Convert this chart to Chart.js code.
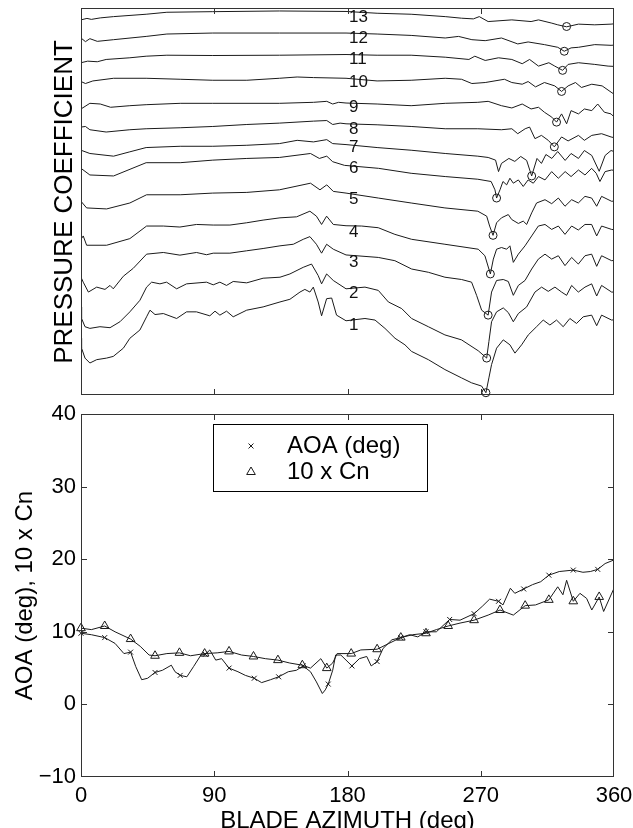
<!DOCTYPE html>
<html lang="en">
<head>
<meta charset="UTF-8">
<title>Pressure coefficient and AOA vs blade azimuth</title>
<script src="https://cdn.jsdelivr.net/npm/chart.js"></script>
<style>
  body { margin: 0; background: #fff; }
  #wrap { position: relative; width: 633px; height: 828px; overflow: hidden; }
  canvas { position: absolute; left: 0; }
  #cpChart { top: 0; }
  #aoaChart { top: 400px; }
</style>
</head>
<body>
<div id="wrap">
  <canvas id="cpChart" width="633" height="400"></canvas>
  <canvas id="aoaChart" width="633" height="428"></canvas>
</div>
<script>
// ---- top panel: 13 stacked pressure traces, [azimuth (deg), offset Cp] (axis reversed) ----
const cp1 = [[0,33.37],[0.4,34.37],[2.7,35.37],[6,35.87],[10.6,35.53],[17.3,35.37],[21.8,35.2],[28.6,34.37],[33,33.37],[39.8,32.53],[44.3,31.2],[46.6,30.53],[50,30.97],[55.6,30.87],[64.6,31.37],[71.3,30.7],[78,30.7],[87,31.1],[90.5,30.63],[93.8,31.03],[98.3,30.63],[102.8,31.2],[111.9,30.53],[123,30.2],[134.4,29.7],[141.1,29.43],[147.9,28.7],[151.2,28.43],[154.6,28.7],[156.9,28.2],[160.2,29.7],[162.5,31.1],[165.9,29.37],[169.3,29.3],[172.6,31.03],[179,31.6],[191.8,31.37],[198.6,31.53],[205.3,32.37],[212.1,33.37],[218.8,34.03],[223.3,34.7],[234.6,35.53],[245.8,36.53],[257,37.37],[263.8,37.87],[270.6,38.2],[273.5,38.87],[275.5,37.37],[277.3,36.03],[280.7,34.37],[285.2,33.53],[289.7,34.03],[293.1,34.87],[297.6,34.03],[302.1,33.03],[307.7,32.2],[312.2,31.53],[316.7,32.03],[321.2,31.53],[325.7,32.2],[330.2,31.37],[334.7,31.87],[339.2,31.2],[344.9,31.03],[348.3,32.1],[351.6,31.03],[358.4,31.53],[360,31.5]];
const cp2 = [[0,30.2],[0.4,31.37],[2.7,32.2],[6,32.37],[12.8,32.2],[19.6,32.3],[26.3,31.7],[33,30.7],[39.8,29.53],[44.3,28.2],[47.7,27.7],[53.3,27.87],[57.8,27.7],[64.6,28.37],[71.3,27.87],[84.8,27.7],[89.3,27.97],[93.8,27.7],[98.3,28.03],[102.8,27.63],[111.9,27.77],[123,27.3],[134.4,27.2],[141.1,26.87],[150.1,26.2],[155.7,25.87],[160.2,27.03],[162.5,27.87],[165.9,26.87],[170.4,27.53],[179,28.37],[191.8,28.2],[200.8,28.53],[207.6,29.7],[216.6,30.37],[223.3,31.37],[234.6,32.2],[245.8,33.03],[257,33.53],[268.3,34.63],[274,35.37],[275.5,33.7],[277.3,31.7],[280.7,30.7],[285.2,30.3],[288.6,30.77],[292,31.7],[295.4,30.87],[301,30.2],[306.6,28.7],[311.1,28.2],[315.6,28.63],[320.1,28.2],[324.6,28.7],[328,29.03],[331.4,28.03],[335.9,28.7],[340.4,28.2],[344.9,27.87],[348.3,29.1],[351.6,28.03],[358.4,28.7],[360,28.7]];
const cp3 = [[0,27.2],[1.5,27.7],[5,28.7],[10.6,28.2],[16.2,28.43],[19.6,28.03],[21.8,28.37],[28.6,27.1],[35.3,26.3],[44.3,24.87],[55.6,24.7],[66.8,24.97],[78,24.7],[84.8,24.93],[89.3,24.77],[100.6,24.77],[111.9,24.53],[123,24.3],[134.4,24.03],[143.4,23.87],[150.1,23.37],[154.6,23.1],[159,23.87],[162.5,24.77],[165.9,23.87],[170.4,24.37],[179,24.95],[200.8,25.2],[212,25.53],[223.3,26.37],[234.6,26.7],[245.8,27.2],[257,27.43],[263.8,27.7],[267.2,29.03],[270.6,30.53],[275,31.03],[277.3,28.7],[280.7,27.53],[285.2,27.43],[288.6,27.63],[292,29.03],[295.4,28.03],[299.9,27.53],[304.4,26.37],[308.9,25.37],[313.4,24.87],[317.9,25.37],[322.4,25.03],[326.9,26.03],[331.4,25.2],[335.9,25.87],[340.4,25.03],[344.9,24.87],[348.3,26.1],[351.6,25.03],[358.4,25.53],[360,25.5]];
const cp4 = [[0,23.37],[1.5,23.03],[3.8,23.97],[17.3,23.97],[33,23.3],[44.3,22.03],[55.6,22.03],[66.8,22.13],[78,21.87],[89.3,21.93],[100.6,21.93],[111.9,21.7],[123,21.43],[134.4,21.2],[145.6,21.1],[154.6,20.53],[159,21.03],[162.5,21.87],[165.9,21.03],[170.4,21.87],[179,22.0],[189.6,22.03],[200.8,22.2],[212,22.87],[223.3,23.37],[245.8,23.87],[268.3,24.37],[272.8,25.03],[276.5,26.87],[278.5,25.37],[280.7,24.37],[284,24.2],[287.5,24.37],[289.7,24.03],[292,25.7],[295.4,24.87],[299.9,24.03],[304.4,23.03],[308.9,22.03],[313.4,21.87],[317.9,22.37],[322.4,22.03],[326.9,22.87],[331.4,22.03],[335.9,22.43],[340.4,21.87],[344.9,21.87],[348.3,23.03],[351.6,22.03],[358.4,22.37],[360,22.4]];
const cp5 = [[0,19.53],[3.8,20.2],[17.3,20.3],[33,19.7],[44.3,18.87],[67,18.87],[89,18.7],[112,18.63],[134,18.37],[155,17.7],[161.4,18.37],[166,17.87],[170.4,18.53],[179,18.7],[200.8,19.2],[223,19.7],[245.8,20.2],[268,20.53],[274,21.03],[276,22.03],[278.3,22.97],[280.7,21.7],[284,21.2],[288.6,20.87],[290.9,21.37],[295.4,21.77],[298.7,21.53],[301,21.87],[304.4,20.7],[307.7,19.7],[313.4,19.37],[317.9,19.77],[322.4,19.2],[326.9,20.03],[331.4,19.37],[335.9,19.7],[340.4,19.03],[344.9,19.2],[348.3,20.03],[351.6,19.03],[358.4,19.53],[360,19.5]];
const cp6 = [[0,16.2],[6,16.87],[22,16.97],[44,15.63],[67,15.63],[89,15.37],[112,15.2],[134,15.1],[155,14.7],[161,15.2],[166,14.97],[170,15.53],[178,15.9],[201,16.2],[223,16.7],[246,17.03],[268,17.3],[277,17.53],[279.6,18.37],[280.7,19.2],[283,18.37],[285,17.53],[287.5,17.87],[289.7,17.2],[292,17.7],[295.4,17.37],[298.7,18.03],[302,17.37],[305.5,17.7],[309,17.03],[313.4,17.37],[317.9,16.53],[322.4,17.2],[327,16.53],[331,17.03],[336,16.37],[340.4,16.87],[344.9,16.2],[348,16.7],[350.5,17.53],[354,16.53],[358.4,16.37],[360,16.4]];
const cp7 = [[0,14.37],[6,14.7],[22,14.97],[33,14.53],[44,14.1],[67,13.97],[89,13.97],[112,13.87],[134,13.7],[146,13.37],[157,13.53],[166,13.3],[170,13.7],[179,13.8],[200,14.1],[223,14.37],[246,14.7],[268,14.97],[275,15.1],[280,15.37],[282,16.53],[284,15.7],[289,15.2],[293,15.5],[297,15.0],[301,15.4],[304.4,16.97],[308,15.2],[311,15.7],[314,14.8],[318,15.2],[322,14.5],[327,15.4],[331,14.7],[336,15.2],[340,14.4],[345,14.9],[350,16.5],[354,14.9],[358,14.4],[360,14.5]];
const cp8 = [[0,12.03],[3,11.97],[6,12.3],[17,12.53],[33,12.3],[44,12.2],[67,12.1],[89,11.97],[112,11.77],[134,11.63],[157,11.43],[166,11.37],[170,11.77],[175,11.63],[179,11.7],[200,11.8],[223,11.97],[246,12.2],[268,12.2],[284,12.3],[291,12.2],[295,12.7],[300,12.2],[303,12.03],[306.6,13.2],[311,12.87],[315.6,13.37],[319.7,14.03],[324.6,13.03],[329,13.43],[336,12.87],[340,13.37],[345,12.87],[351.6,12.7],[358,13.03],[360,13.1]];
const cp9 = [[0,10.2],[6,9.63],[13,9.7],[20,10.03],[33,9.87],[44,9.77],[67,9.63],[89,9.63],[134,9.63],[157,9.53],[166,9.43],[170,9.7],[174,9.53],[179,9.6],[200,9.7],[223,9.87],[246,9.63],[268,9.53],[275,9.43],[284,9.87],[291,10.1],[298,9.7],[304,10.2],[309,10.03],[313,10.53],[318,11.03],[321.2,11.53],[324.6,10.7],[328,11.7],[331,10.37],[336,10.7],[340,10.2],[345,10.37],[349,9.7],[353.5,10.53],[358,10.7],[360,11.0]];
const cp10 = [[0,7.43],[3,7.63],[8,7.37],[22,7.1],[44,7.1],[67,7.2],[89,7.3],[112,7.3],[134,7.1],[146,6.97],[157,7.03],[179,7.1],[200,7.37],[223,7.3],[246,7.1],[257,7.2],[264,7.63],[273,7.53],[286,7.2],[291,7.53],[298,7.7],[302,7.43],[307,7.97],[313,7.53],[320,7.87],[324.6,8.43],[329,7.87],[334,7.53],[338,8.03],[345,7.7],[352,7.87],[358,8.5],[360,8.7]];
const cp11 = [[0,5.53],[4.5,5.37],[11,5.43],[17,5.2],[33,5.03],[44,4.87],[58,4.77],[89,4.8],[134,4.77],[179,4.7],[200,4.77],[223,4.77],[246,4.97],[262,5.2],[266,4.87],[273,5.3],[282,5.03],[291,5.2],[298,5.63],[303,5.2],[309,5.87],[316,5.53],[320,5.87],[325.3,6.3],[329,5.7],[336,5.53],[347,5.7],[356,5.87],[360,5.9]];
const cp12 = [[0,3.03],[3,3.4],[6,3.1],[11,3.37],[22,3.2],[44,2.87],[58,2.63],[89,2.53],[134,2.53],[179,2.53],[200,2.63],[223,2.77],[246,3.03],[255,2.87],[264,3.2],[273,3.3],[284,3.03],[295,3.63],[302,3.43],[313,3.7],[322,3.97],[326.4,4.37],[331,4.03],[336,3.97],[347,3.7],[358,3.77],[360,3.75]];
const cp13 = [[0,1.2],[4,1.05],[7,1.15],[13,1.0],[22,0.87],[44,0.63],[58,0.43],[89,0.37],[134,0.3],[179,0.35],[200,0.53],[223,0.63],[246,0.87],[257,1.03],[265,1.1],[269,0.87],[275,1.37],[291,1.2],[304,1.37],[309,1.2],[318,1.53],[322,1.7],[328,1.9],[336,1.63],[347,1.7],[358,1.63],[360,1.6]];

// circled minima, traces 1..13
const circleAz = [273.5, 274, 275, 276.5, 278.3, 280.7, 304.4, 319.7, 321.2, 324.6, 325.3, 326.4, 328];
const circleCp = [38.87, 35.37, 31.03, 26.87, 22.97, 19.2, 16.97, 14.03, 11.53, 8.43, 6.3, 4.37, 1.87];

// trace number labels
const traceNames = ['1','2','3','4','5','6','7','8','9','10','11','12','13'];
const labelAz = 181;
const labelCp = [32.03, 28.87, 25.7, 22.7, 19.37, 16.2, 14.1, 12.3, 10.0, 7.53, 5.2, 3.03, 0.97];

// ---- bottom panel ----
const aoaAz  = [0,7,16,23,29,33.5,37,41,45,50,55,61,63.5,67,71.5,76,81,84,87,91,95,100,106,111,117,122,128,133.5,140,145.5,150,155,159,163,165,167,170,172,175.5,179,183,188,193,196,200,204,210,216,222,227.5,233,240,249,256,265.5,271,276,282,285,290,293,299,305,310.5,316,323,332.5,339,344,349,354,360];
const aoaVal = [9.8,9.6,9.2,8.4,7.0,7.2,5.2,3.4,3.6,4.4,4.7,5.4,4.5,4.0,3.8,5.2,6.8,6.9,7.5,6.1,6.3,5.0,4.5,4.0,3.6,3.0,3.4,3.8,4.5,4.7,5.3,4.5,3.1,1.5,2.0,2.8,4.7,6.8,6.8,6.1,5.3,6.3,6.6,5.3,5.9,7.7,8.9,9.2,9.6,9.3,10.0,10.0,11.7,11.6,12.5,13.5,14.5,14.2,13.7,16.0,15.3,15.9,16.5,16.9,17.8,18.3,18.5,18.2,18.3,18.6,19.4,19.9];
const cnAz   = [0,7,16,23,33.5,40,46,50,58,66.5,74,83.5,92,100,108.5,116.5,124.5,133,141,149.5,155,162,166,170,173,182.5,189,200,208,216,224,233,240,248,256,265.5,275,283,292,300,307,316,322,325.5,328,332.5,337,341.5,345,350,353,360];
const cnVal  = [10.5,10.3,10.8,10.0,9.0,8.0,6.8,6.7,7.0,7.1,6.7,7.0,7.1,7.3,6.8,6.6,6.3,6.1,5.7,5.4,5.0,6.3,5.0,5.7,7.0,7.0,7.5,7.6,8.4,9.2,9.6,9.8,10.3,10.8,11.2,11.6,12.3,13.0,12.3,13.6,13.7,14.4,16.2,15.1,17.1,14.2,15.3,14.6,13.0,14.8,12.8,16.0];
const aoaMarkAz  = [0,16,33.5,50,67,84,100,117,133.5,150,167,183,200,216,233,249,265.5,282,299,316,332.5,349];
const aoaMarkVal = [9.8,9.2,7.2,4.4,4.0,6.9,5.0,3.6,3.8,5.3,2.8,5.3,5.9,9.2,10.0,11.7,12.5,14.2,15.9,17.8,18.5,18.6];
const cnMarkAz   = [0,16,33.5,50,66.5,83.5,100,116.5,133,149.5,166,182.5,200,216,233,248,265.5,283,300,316,332.5,350];
const cnMarkVal  = [10.5,10.8,9.0,6.7,7.1,7.0,7.3,6.6,6.1,5.4,5.0,7.0,7.6,9.2,9.8,10.8,11.6,13.0,13.6,14.4,14.2,14.8];

const xTickVals = [0, 90, 180, 270, 360];

Chart.defaults.font.family = '"Liberation Sans", Arial, sans-serif';
Chart.defaults.color = '#000';

const ink = '#1a1a1a';
const pairs = arr => arr.map(p => ({x: p[0], y: p[1]}));
const zip = (xs, ys) => xs.map((x, i) => ({x, y: ys[i]}));

// box round the plot area with inward MATLAB-style ticks
const frame = {
  id: 'frame',
  afterDatasetsDraw(chart, args, opts) {
    const {ctx, chartArea: a, scales: {x, y}} = chart;
    const len = 6;
    ctx.save();
    ctx.strokeStyle = '#333';
    ctx.lineWidth = 1;
    ctx.strokeRect(a.left + 0.5, a.top + 0.5, a.width - 1, a.height - 1);
    ctx.beginPath();
    (opts.xTicks || []).forEach(v => {
      const px = Math.round(x.getPixelForValue(v)) + 0.5;
      ctx.moveTo(px, a.top); ctx.lineTo(px, a.top + len);
      ctx.moveTo(px, a.bottom); ctx.lineTo(px, a.bottom - len);
    });
    (opts.yTicks || []).forEach(v => {
      const py = Math.round(y.getPixelForValue(v)) + 0.5;
      ctx.moveTo(a.left, py); ctx.lineTo(a.left + len, py);
      ctx.moveTo(a.right, py); ctx.lineTo(a.right - len, py);
    });
    ctx.stroke();
    ctx.restore();
  }
};

const traceLabels = {
  id: 'traceLabels',
  afterDatasetsDraw(chart) {
    const {ctx, scales: {x, y}} = chart;
    ctx.save();
    ctx.font = '17px "Liberation Sans", Arial, sans-serif';
    ctx.fillStyle = '#111';
    ctx.textAlign = 'left';
    ctx.textBaseline = 'middle';
    traceNames.forEach((t, i) => ctx.fillText(t, x.getPixelForValue(labelAz), y.getPixelForValue(labelCp[i])));
    ctx.restore();
  }
};

const legendBox = {
  id: 'legendBox',
  afterDraw(chart, args, o) {
    const ctx = chart.ctx;
    ctx.save();
    ctx.fillStyle = '#fff';
    ctx.fillRect(o.x, o.y, o.w, o.h);
    ctx.strokeStyle = '#000';
    ctx.lineWidth = 1;
    ctx.strokeRect(o.x + 0.5, o.y + 0.5, o.w, o.h);
    ctx.font = '24px "Liberation Sans", Arial, sans-serif';
    ctx.textBaseline = 'middle';
    o.items.forEach((it, i) => {
      const cy = o.y + o.rows[i];
      ctx.fillStyle = 'rgba(0,0,0,0)';
      ctx.strokeStyle = ink;
      ctx.lineWidth = 1;
      Chart.helpers.drawPoint(ctx, {pointStyle: it.style, radius: it.r, borderWidth: 1}, o.x + o.markX, cy);
      ctx.fillStyle = '#000';
      ctx.fillText(it.text, o.x + o.textX, cy);
    });
    ctx.restore();
  }
};

const traces = [cp1, cp2, cp3, cp4, cp5, cp6, cp7, cp8, cp9, cp10, cp11, cp12, cp13];

new Chart(document.getElementById('cpChart'), {
  type: 'line',
  data: {
    datasets: traces.map((t, i) => ({
      label: 'trace ' + (i + 1),
      data: pairs(t),
      borderColor: ink,
      borderWidth: 1,
      pointRadius: 0,
      tension: 0
    })).concat([{
      label: 'minima',
      data: zip(circleAz, circleCp),
      showLine: false,
      pointStyle: 'circle',
      pointRadius: 4,
      borderColor: ink,
      borderWidth: 1,
      backgroundColor: 'rgba(0,0,0,0)',
      clip: false
    }])
  },
  options: {
    responsive: false,
    animation: false,
    layout: { padding: { left: 81, right: 19, top: 8, bottom: 1 } },
    plugins: {
      legend: { display: false },
      tooltip: { enabled: false },
      frame: { xTicks: [90, 180, 270] }
    },
    scales: {
      x: { type: 'linear', min: 0, max: 360, display: false },
      y: { type: 'linear', min: 0, max: 39.1, reverse: true, display: false }
    }
  },
  plugins: [frame, traceLabels]
});

new Chart(document.getElementById('aoaChart'), {
  type: 'line',
  data: {
    datasets: [
      { label: 'AOA (deg)', data: zip(aoaAz, aoaVal), borderColor: ink, borderWidth: 1, pointRadius: 0, tension: 0 },
      { label: '10 x Cn', data: zip(cnAz, cnVal), borderColor: ink, borderWidth: 1, pointRadius: 0, tension: 0 },
      { label: 'AOA marks', data: zip(aoaMarkAz, aoaMarkVal), showLine: false, pointStyle: 'crossRot',
        pointRadius: 3.5, borderColor: ink, borderWidth: 1, clip: false },
      { label: 'Cn marks', data: zip(cnMarkAz, cnMarkVal), showLine: false, pointStyle: 'triangle',
        pointRadius: 5, borderColor: ink, borderWidth: 1, backgroundColor: 'rgba(0,0,0,0)', clip: false }
    ]
  },
  options: {
    responsive: false,
    animation: false,
    layout: { padding: { left: 0, right: 19, top: 14, bottom: 0 } },
    plugins: {
      legend: { display: false },
      tooltip: { enabled: false },
      frame: { xTicks: [90, 180, 270], yTicks: [0, 10, 20, 30] },
      legendBox: {
        x: 213, y: 24, w: 214, h: 67, markX: 38, textX: 74, rows: [22, 48],
        items: [
          { style: 'crossRot', r: 3.5, text: 'AOA (deg)' },
          { style: 'triangle', r: 5, text: '10 x Cn' }
        ]
      }
    },
    scales: {
      x: {
        type: 'linear', min: 0, max: 360,
        afterBuildTicks: s => { s.ticks = xTickVals.map(v => ({value: v})); },
        grid: { display: false, drawTicks: false },
        border: { display: false },
        ticks: { font: { size: 22 }, padding: 6, maxRotation: 0, autoSkip: false },
        title: { display: true, text: 'BLADE AZIMUTH (deg)', font: { size: 24, lineHeight: 1 }, padding: { top: 0, bottom: -5 } },
        afterFit: s => { s.height = 51; s.paddingLeft = 0; s.paddingRight = 0; }
      },
      y: {
        type: 'linear', min: -10, max: 40,
        ticks: { stepSize: 10, font: { size: 22 }, padding: 5, callback: v => String(v).replace('-', '\u2212') },
        grid: { display: false, drawTicks: false },
        border: { display: false },
        title: { display: true, text: 'AOA (deg), 10 x Cn', font: { size: 24, lineHeight: 1 }, padding: { top: 13, bottom: 0 } },
        afterFit: s => { s.width = 81; s.paddingTop = 0; s.paddingBottom = 0; }
      }
    }
  },
  plugins: [frame, legendBox]
});

// top panel y title
(() => {
  const c = document.getElementById('cpChart').getContext('2d');
  c.save();
  c.font = '26px "Liberation Sans", Arial, sans-serif';
  c.fillStyle = '#000';
  c.textAlign = 'center';
  c.textBaseline = 'middle';
  c.translate(65, 202);
  c.rotate(-Math.PI / 2);
  c.fillText('PRESSURE COEFFICIENT', 0, 0);
  c.restore();
})();
</script>
</body>
</html>
